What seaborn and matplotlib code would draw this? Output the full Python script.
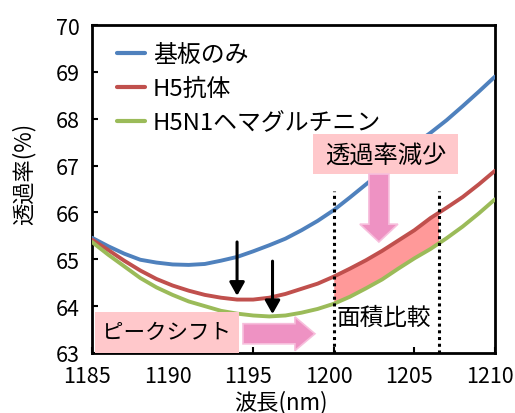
import numpy as np
import pandas as pd
import matplotlib
matplotlib.use("Agg")
import matplotlib.pyplot as plt
from matplotlib.patches import Rectangle, FancyArrow
from matplotlib.transforms import ScaledTranslation
import seaborn as sns

# Transmission spectra (wavelength in nm, transmittance in %)
wavelength = list(range(1185, 1211))
substrate = [65.46, 65.28, 65.12, 64.99, 64.93, 64.89, 64.88, 64.90, 64.97, 65.05,
             65.17, 65.30, 65.44, 65.62, 65.82, 66.05, 66.32, 66.60, 66.88, 67.17,
             67.45, 67.70, 67.97, 68.27, 68.58, 68.90]
antibody = [65.42, 65.20, 64.97, 64.76, 64.58, 64.44, 64.33, 64.24, 64.18, 64.14,
            64.14, 64.18, 64.26, 64.37, 64.48, 64.63, 64.80, 64.98, 65.18, 65.40,
            65.62, 65.88, 66.10, 66.33, 66.60, 66.89]
hemagglutinin = [65.37, 65.10, 64.85, 64.60, 64.40, 64.24, 64.10, 64.00, 63.90, 63.84,
                 63.80, 63.78, 63.80, 63.86, 63.94, 64.05, 64.20, 64.38, 64.57, 64.80,
                 65.02, 65.22, 65.45, 65.70, 65.98, 66.28]
series_names = ["基板のみ", "H5抗体", "H5N1ヘマグルチニン"]
series_colors = ["#4F81BD", "#C0504D", "#9BBB59"]

x_ticks = [1185, 1190, 1195, 1200, 1205, 1210]
y_ticks = [63, 64, 65, 66, 67, 68, 69, 70]

# Integration window for the area comparison (nm)
area_window = [1200.0, 1206.5]
# Peak positions marked with arrows (nm)
peak_marks = [1194.0, 1196.2]

df = pd.DataFrame({
    "wavelength": wavelength * 3,
    "T": substrate + antibody + hemagglutinin,
    "sample": [series_names[0]] * len(wavelength)
              + [series_names[1]] * len(wavelength)
              + [series_names[2]] * len(wavelength),
})

sns.set_style("ticks")
plt.rcParams["font.family"] = ["Noto Sans CJK JP", "DejaVu Sans"]
plt.rcParams["text.color"] = "black"

fig = plt.figure(figsize=(5.15, 4.14), dpi=100)
ax = fig.add_axes([0.1786, 0.145, 0.7825, 0.792])

sns.lineplot(data=df, x="wavelength", y="T", hue="sample",
             palette=dict(zip(series_names, series_colors)),
             linewidth=2.8, ax=ax, zorder=3)

ax.set_xlim(1185, 1210)
ax.set_ylim(63, 70)
ax.set_xticks(x_ticks)
ax.set_yticks(y_ticks)
ax.tick_params(direction="in", length=4, width=1.5, labelsize=15.5, pad=9,
               colors="black")
# x tick labels sit slightly left of their ticks
shift = ScaledTranslation(-5 / 100, 0, fig.dpi_scale_trans)
for lab in ax.get_xticklabels():
    lab.set_transform(lab.get_transform() + shift)
for s in ax.spines.values():
    s.set_linewidth(2.0)
    s.set_color("black")

ax.set_xlabel("波長(nm)", fontsize=16, color="black")
ax.set_ylabel("透過率(%)", fontsize=16, color="black")
ax.xaxis.set_label_coords(0.469, -0.112)
ax.yaxis.set_label_coords(-0.139, 0.55)

leg = ax.legend(loc="upper left", bbox_to_anchor=(0.062, 0.944), frameon=False,
                fontsize=17.2, handlelength=1.17, handletextpad=0.34,
                labelspacing=0.45, borderpad=0, borderaxespad=0)
for h in leg.get_lines():
    h.set_linewidth(3)

# Shaded area between antibody and hemagglutinin curves
xf = np.linspace(area_window[0], area_window[1], 60)
ax.fill_between(xf, np.interp(xf, wavelength, hemagglutinin),
                np.interp(xf, wavelength, antibody),
                color="#FF9999", linewidth=0, zorder=2)
ax.vlines(area_window, 63, 66.46, colors="black", linewidth=2.2,
          linestyles=[(0, (1, 1.2))], zorder=4)
ax.text(1203.1, 63.77, "面積比較", fontsize=17, ha="center", va="center", zorder=5)

# Peak markers
for xp, (y0, y1) in zip(peak_marks, [(65.37, 64.22), (64.96, 63.83)]):
    ax.annotate("", xy=(xp, y1), xytext=(xp, y0),
                arrowprops=dict(arrowstyle="-|>,head_length=0.8,head_width=0.45",
                                color="black", lw=2.2, shrinkA=0, shrinkB=0),
                zorder=5)

box_color = "#FFC8CB"
arrow_face = "#EE92C3"
arrow_edge = "#F7BEDC"

# "Transmittance decrease" label with downward arrow
ax.add_patch(Rectangle((1198.71, 66.82), 8.99, 0.85, facecolor=box_color,
                       edgecolor="none", zorder=6))
ax.text(1203.2, 67.24, "透過率減少", fontsize=17.5, ha="center", va="center", zorder=7)
ax.add_patch(FancyArrow(1202.8, 66.82, 0, -1.45, width=1.24, head_width=2.36,
                        head_length=0.38, length_includes_head=True,
                        facecolor=arrow_face, edgecolor=arrow_edge, lw=1.2, zorder=6))

# "Peak shift" label with rightward arrow
ax.add_patch(Rectangle((1185.19, 63.0), 8.93, 0.88, facecolor=box_color,
                       edgecolor="none", zorder=6))
ax.text(1189.65, 63.44, "ピークシフト", fontsize=15.5, ha="center", va="center", zorder=7)
ax.add_patch(FancyArrow(1194.37, 63.41, 4.46, 0, width=0.43, head_width=0.72,
                        head_length=1.24, length_includes_head=True,
                        facecolor=arrow_face, edgecolor=arrow_edge, lw=1.2, zorder=6))

fig.savefig("out.png", dpi=100)
